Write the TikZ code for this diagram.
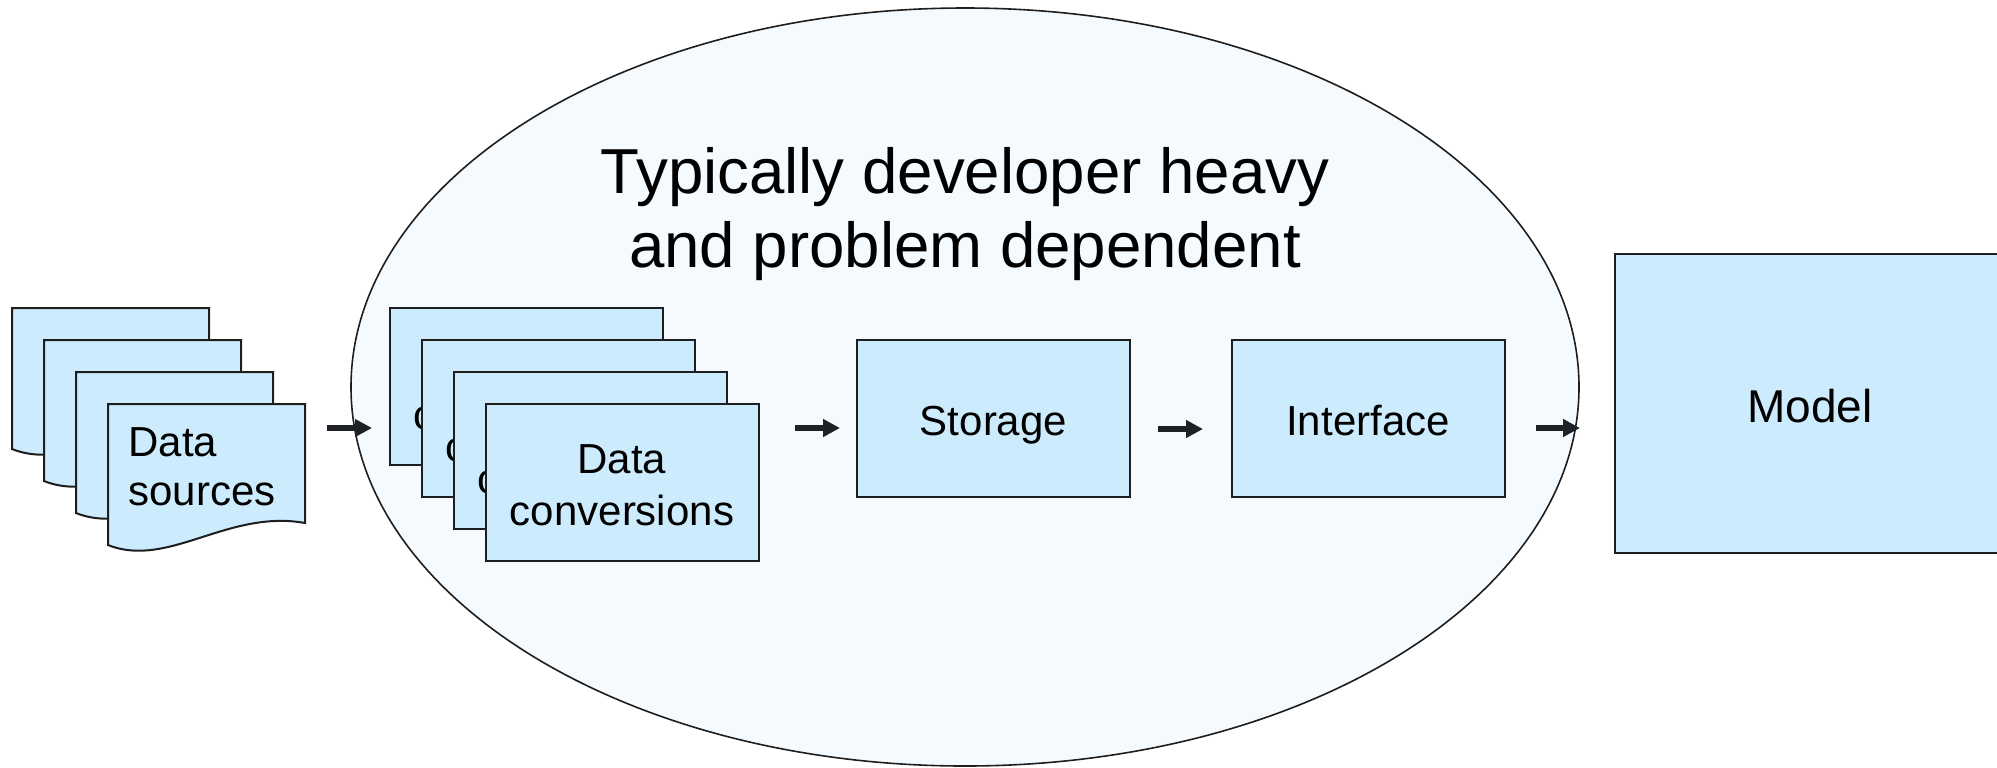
\documentclass[tikz,border=0pt]{standalone}
\usepackage{fontspec}
\setmainfont{Liberation Sans}
\usetikzlibrary{arrows.meta,shapes.geometric}
\definecolor{boxfill}{HTML}{CCEBFC}
\definecolor{cloudfill}{HTML}{F5FAFE}
\definecolor{edge}{HTML}{1E1E1E}
\definecolor{arrowcol}{HTML}{1E2226}
\begin{document}
\begin{tikzpicture}[x=0.5pt,y=-0.5pt,
  box/.style={draw=edge, line width=1pt, fill=boxfill, minimum width=136.5pt,
    minimum height=78.5pt, inner sep=0pt, align=center,
    font=\fontsize{21}{26}\selectfont},
  onebox/.style={box, text height=21pt, text depth=4.5pt},
  docpage/.style={draw=edge, line width=1pt, fill=boxfill},
  flow/.style={draw=arrowcol, line width=3pt,
    -{Triangle[length=8.5pt,width=8.5pt]}}]
\useasboundingbox (0,0) rectangle (1997,767);
\clip (0,0) rectangle (1997,767);

% the developer-heavy stage
\node[ellipse, draw=edge, line width=0.8pt, fill=cloudfill, inner sep=0pt,
  minimum width=614pt, minimum height=379pt] (stage) at (965,387) {};
\node[anchor=north, inner sep=0pt, align=center,
  font=\fontsize{31.8}{37}\selectfont] (title) at (965,147)
  {Typically developer heavy\\and problem dependent};

% stack of source documents
\foreach \i in {0,1,2,3}{
  \pgfmathsetmacro{\xo}{12+32*\i}
  \pgfmathsetmacro{\yo}{308+32*\i}
  \draw[docpage] (\xo,\yo) -- ++(197,0) -- ++(0,119)
    .. controls ++(-77,-14) and ++(60,24) .. ++(-197,22) -- cycle;
}
\node[anchor=north west, inner sep=0pt, align=left,
  font=\fontsize{21}{24.5}\selectfont] (ds) at (128,427) {Data\\sources};

% stack of conversion steps
\newcommand{\convtext}{\rule{0pt}{18pt}Data\\conversions}
\node[box] (c1) at (526,386) {\convtext};
\node[box] (c2) at (558,418) {\convtext};
\node[box] (c3) at (590,450) {\convtext};
\node[box] (c4) at (622,482) {\convtext};

\node[onebox] (storage) at (993.5,418.5) {Storage};
\node[onebox] (interface) at (1368,418.5) {Interface};

\node[draw=edge, line width=1pt, fill=boxfill, minimum width=195pt,
  minimum height=149.5pt, inner sep=0pt, text height=23.5pt, text depth=5pt,
  font=\fontsize{23}{27}\selectfont] (model) at (1810,403.5) {Model};

% short flow arrows
\coordinate (a1s) at (327,428);  \coordinate (a1e) at (372,428);
\coordinate (a2s) at (795,428);  \coordinate (a2e) at (840,428);
\coordinate (a3s) at (1158,429); \coordinate (a3e) at (1203,429);
\coordinate (a4s) at (1536,428); \coordinate (a4e) at (1580,428);
\draw[flow] (a1s) -- (a1e);
\draw[flow] (a2s) -- (a2e);
\draw[flow] (a3s) -- (a3e);
\draw[flow] (a4s) -- (a4e);
\end{tikzpicture}
\end{document}
